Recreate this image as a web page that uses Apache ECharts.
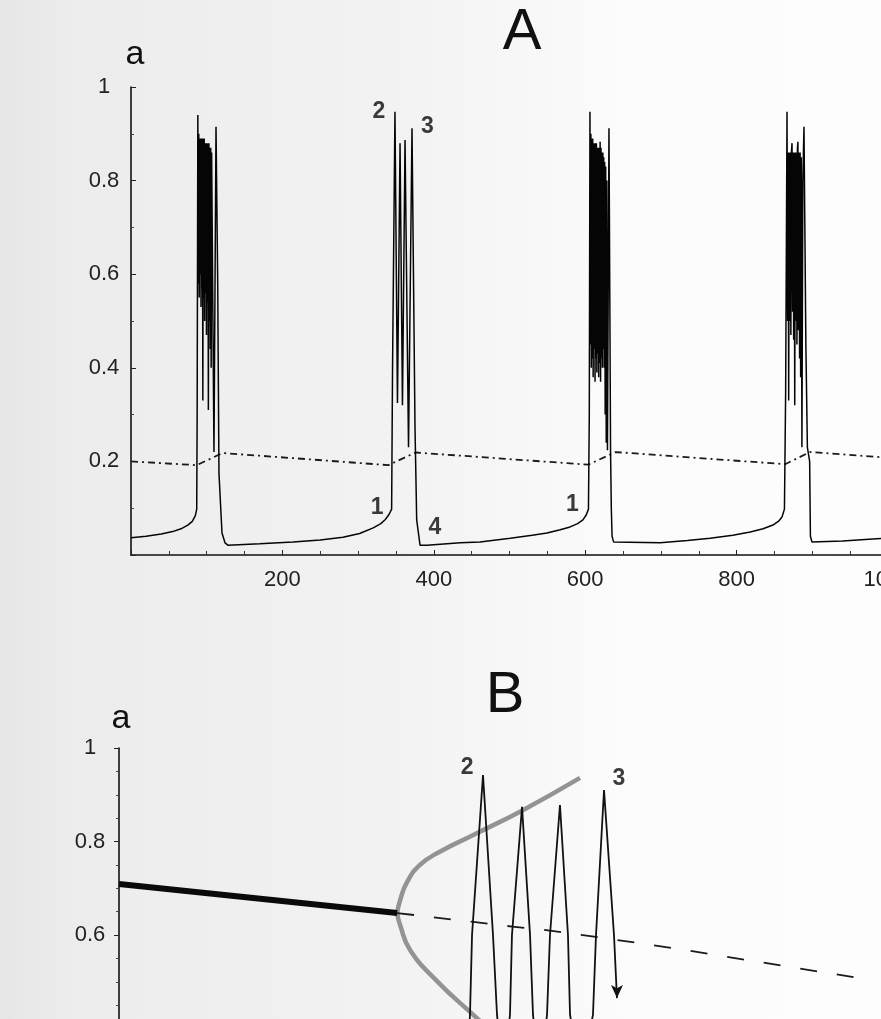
<!DOCTYPE html>
<html><head><meta charset="utf-8">
<script src="https://cdn.jsdelivr.net/npm/echarts@6/dist/echarts.min.js"></script>
<style>html,body{margin:0;padding:0;background:#fff}#c{width:881px;height:1019px}</style>
</head><body><div id="c"></div>
<script>
// ---------- Panel A : time course of a (t from 0 to 1000) ----------
const restA0 = [[0,0.037],[20,0.040],[40,0.045],[55,0.050],[66,0.056],[75,0.064],[81,0.072],[85,0.084],[86.8,0.098]];
const burstA1 = [[87.4,0.30],[88.3,0.94],[88.9,0.58],[89.5,0.90],[90.1,0.55],[90.7,0.89],[91.3,0.60],[91.9,0.89],[92.5,0.53],[93.1,0.89],[93.7,0.57],[94.3,0.89],[94.9,0.33],[95.5,0.89],[96.1,0.55],[96.7,0.89],[97.3,0.50],[97.9,0.88],[98.5,0.56],[99.1,0.88],[99.7,0.47],[100.3,0.88],[100.9,0.54],[101.5,0.88],[102.2,0.31],[102.9,0.88],[103.5,0.50],[104.1,0.87],[104.7,0.44],[105.3,0.87],[105.9,0.40],[106.5,0.86],[109.6,0.22],[112.3,0.915],[114.5,0.59],[116.2,0.175],[120.2,0.047],[124.2,0.026]];
const restA1 = [[128,0.021],[170,0.024],[214,0.028],[250,0.032],[280,0.038],[302,0.046],[320,0.058],[330,0.067],[336,0.076],[341,0.087],[344.3,0.098]];
const burstA2 = [[345.5,0.40],[348.7,0.947],[352.0,0.325],[355.4,0.88],[358.6,0.32],[362.0,0.887],[366.6,0.23],[371.2,0.912],[375.2,0.27],[377.4,0.075],[381.8,0.021]];
const restA2 = [[384.4,0.017],[391,0.021],[435,0.026],[461,0.028],[501,0.036],[530,0.042],[549.5,0.047],[567,0.054],[580,0.060],[590,0.067],[597,0.075],[601.5,0.086],[604.3,0.098]];
const burstA3 = [[605.4,0.30],[606.3,0.947],[606.9,0.45],[607.5,0.90],[608.1,0.40],[608.7,0.89],[609.3,0.42],[609.9,0.89],[610.5,0.38],[611.1,0.88],[611.7,0.44],[612.3,0.88],[613.0,0.37],[613.6,0.88],[614.2,0.42],[614.8,0.88],[615.4,0.39],[616.0,0.87],[616.6,0.43],[617.2,0.87],[617.8,0.38],[618.4,0.87],[619.0,0.41],[619.7,0.883],[620.3,0.37],[620.9,0.87],[621.5,0.42],[622.1,0.86],[622.7,0.40],[623.3,0.86],[623.9,0.44],[624.5,0.85],[625.1,0.40],[625.7,0.84],[626.4,0.30],[627.1,0.83],[627.8,0.24],[628.6,0.80],[629.4,0.224],[631.4,0.912],[632.5,0.55],[633.5,0.22],[634.5,0.10],[635.5,0.04],[637.5,0.028]];
const restA3 = [[639.4,0.026],[699,0.026],[735,0.031],[765,0.036],[795,0.042],[818,0.049],[835,0.056],[848,0.064],[856,0.073],[860,0.081],[863.2,0.098]];
const burstA4 = [[864.8,0.35],[866.6,0.947],[867.4,0.50],[868.1,0.86],[868.8,0.33],[869.6,0.86],[870.3,0.50],[871.0,0.86],[871.7,0.47],[872.4,0.86],[873.2,0.88],[874.0,0.52],[874.7,0.86],[875.4,0.46],[876.1,0.86],[876.8,0.32],[877.6,0.86],[878.3,0.50],[879.0,0.86],[879.7,0.45],[880.4,0.87],[881.0,0.883],[881.8,0.48],[882.5,0.86],[883.2,0.42],[883.9,0.86],[884.6,0.38],[885.4,0.85],[886.3,0.23],[887.5,0.80],[889.0,0.915],[891.5,0.45],[893.5,0.23],[896.5,0.20],[897.5,0.04],[899.5,0.028]];
const restA4 = [[901,0.026],[940,0.030],[980,0.034],[1000,0.036]];
const dashA = [[0,0.200],[87,0.192],[121,0.218],[340,0.192],[376,0.219],[604,0.193],[640,0.220],[864,0.194],[897,0.220],[1000,0.208]];
const annotAText = ['2','3','1','4','1'];
const annotAPos = [[327.6,0.947],[391.7,0.915],[325,0.101],[401.6,0.058],[583,0.107]];

// ---------- Panel B : a against the slow parameter (arbitrary 0..100 scale) ----------
const thickB = [[0,0.709],[36.5,0.647]];
const dashB = [[36.5,0.647],[46.5,0.628],[51.6,0.618],[56.8,0.609],[65.1,0.590],[72.7,0.572],[98.6,0.504]];
const upperB = [[36.5,0.647],[36.9,0.675],[37.8,0.713],[39.5,0.750],[42.1,0.778],[46.5,0.814],[53.0,0.867],[60.5,0.936]];
const lowerB = [[36.5,0.647],[36.9,0.621],[38.2,0.568],[41.7,0.502],[46.5,0.429],[48.7,0.397]];
const osciB = [[45.6,0.30],[46.06,0.429],[46.33,0.60],[47.77,0.942],[49.08,0.60],[49.61,0.429],[50.4,0.30],[51.31,0.429],[51.57,0.60],[52.89,0.874],[53.94,0.60],[54.33,0.429],[55.2,0.30],[56.17,0.429],[56.56,0.60],[57.87,0.878],[58.92,0.60],[59.19,0.429],[60.6,0.30],[62.20,0.429],[62.60,0.60],[63.65,0.91],[64.96,0.60],[65.35,0.465]];
const annotBText = ['2','3'];
const annotBPos = [[45.7,0.957],[65.6,0.934]];

const FONT = '"Liberation Sans", Arial, Helvetica, sans-serif';
const curveA = [].concat(restA0, burstA1, restA1, burstA2, restA2, burstA3, restA3, burstA4, restA4);
const osciData = osciB.map((p, i) => i === osciB.length - 1
  ? {value: p, symbol: 'arrow', symbolSize: [9, 13], symbolRotate: 180}
  : {value: p});
const labelStyle = {show: true, position: 'inside', formatter: p => p.name, fontFamily: FONT,
  fontSize: 23, fontWeight: 'bold', color: '#0a0a0a'};

const chart = echarts.init(document.getElementById('c'));
chart.setOption({
  animation: false,
  backgroundColor: {type: 'linear', x: 0, y: 0, x2: 1, y2: 0, colorStops: [
    {offset: 0, color: '#e6e6e6'}, {offset: 0.08, color: '#ececec'}, {offset: 0.45, color: '#f2f2f2'},
    {offset: 0.7, color: '#fbfbfb'}, {offset: 1, color: '#fdfdfd'}]},
  graphic: [
    {type: 'text', x: 522, y: 33, style: {text: 'A', font: '58px ' + FONT, fill: '#111', align: 'center', verticalAlign: 'middle'}},
    {type: 'text', x: 135, y: 55, style: {text: 'a', font: '34px ' + FONT, fill: '#111', align: 'center', verticalAlign: 'middle'}},
    {type: 'text', x: 505, y: 696, style: {text: 'B', font: '58px ' + FONT, fill: '#111', align: 'center', verticalAlign: 'middle'}},
    {type: 'text', x: 121, y: 719, style: {text: 'a', font: '34px ' + FONT, fill: '#111', align: 'center', verticalAlign: 'middle'}}
  ],
  grid: [
    {left: 131, top: 87, width: 757, height: 468, outerBoundsMode: 'none', containLabel: false},
    {left: 119, top: 748, width: 762, height: 280.5, outerBoundsMode: 'none', containLabel: false}
  ],
  xAxis: [
    {type: 'value', gridIndex: 0, min: 0, max: 1000, interval: 200,
      axisLine: {onZero: false, lineStyle: {color: '#111', width: 1.6}},
      axisTick: {inside: true, length: 5, lineStyle: {color: '#222', width: 1}},
      minorTick: {show: true, splitNumber: 4, length: 4, lineStyle: {color: '#333', width: 1}},
      splitLine: {show: false},
      axisLabel: {showMinLabel: false, formatter: v => String(v), fontFamily: FONT, fontSize: 22, color: '#222', margin: 14}},
    {type: 'value', gridIndex: 1, min: 0, max: 100, show: false}
  ],
  yAxis: [
    {type: 'value', gridIndex: 0, min: 0, max: 1, interval: 0.2,
      axisLine: {show: true, onZero: false, lineStyle: {color: '#111', width: 1.6}},
      axisTick: {show: true, inside: true, length: 5, lineStyle: {color: '#222'}},
      minorTick: {show: true, splitNumber: 2, length: 3, lineStyle: {color: '#444'}},
      splitLine: {show: false},
      axisLabel: {showMinLabel: false, fontFamily: FONT, fontSize: 22, color: '#222', align: 'center', margin: 27}},
    {type: 'value', gridIndex: 1, min: 0.4, max: 1, interval: 0.2,
      axisLine: {show: true, onZero: false, lineStyle: {color: '#111', width: 1.6}},
      axisTick: {show: true, inside: false, length: 5, lineStyle: {color: '#222'}},
      minorTick: {show: true, splitNumber: 4, length: 3, lineStyle: {color: '#444'}},
      splitLine: {show: false},
      axisLabel: {showMinLabel: false, fontFamily: FONT, fontSize: 22, color: '#222', align: 'center', margin: 29}}
  ],
  series: [
    {type: 'line', xAxisIndex: 0, yAxisIndex: 0, data: dashA, showSymbol: false, symbol: 'none',
      lineStyle: {color: '#1a1a1a', width: 1.8, type: [7, 4, 2, 4]}},
    {type: 'line', xAxisIndex: 0, yAxisIndex: 0, data: curveA, showSymbol: false, symbol: 'none',
      lineStyle: {color: '#050505', width: 1.5}},
    {type: 'scatter', xAxisIndex: 0, yAxisIndex: 0, symbolSize: 1, itemStyle: {color: 'rgba(0,0,0,0)'},
      data: annotAPos.map((p, i) => ({value: p, name: annotAText[i]})), label: labelStyle},

    {type: 'line', xAxisIndex: 1, yAxisIndex: 1, data: upperB, smooth: true, showSymbol: false, symbol: 'none',
      lineStyle: {color: '#939393', width: 4.5}},
    {type: 'line', xAxisIndex: 1, yAxisIndex: 1, data: lowerB, smooth: true, showSymbol: false, symbol: 'none',
      lineStyle: {color: '#939393', width: 4.5}},
    {type: 'line', xAxisIndex: 1, yAxisIndex: 1, data: dashB, showSymbol: false, symbol: 'none',
      lineStyle: {color: '#1a1a1a', width: 1.8, type: [17, 20]}},
    {type: 'line', xAxisIndex: 1, yAxisIndex: 1, data: thickB, showSymbol: false, symbol: 'none',
      lineStyle: {color: '#0a0a0a', width: 6}},
    {type: 'line', xAxisIndex: 1, yAxisIndex: 1, data: osciData, symbol: 'none', showSymbol: true,
      itemStyle: {color: '#111'}, lineStyle: {color: '#111', width: 1.8}},
    {type: 'scatter', xAxisIndex: 1, yAxisIndex: 1, symbolSize: 1, itemStyle: {color: 'rgba(0,0,0,0)'},
      data: annotBPos.map((p, i) => ({value: p, name: annotBText[i]})), label: labelStyle}
  ]
});
</script></body></html>
